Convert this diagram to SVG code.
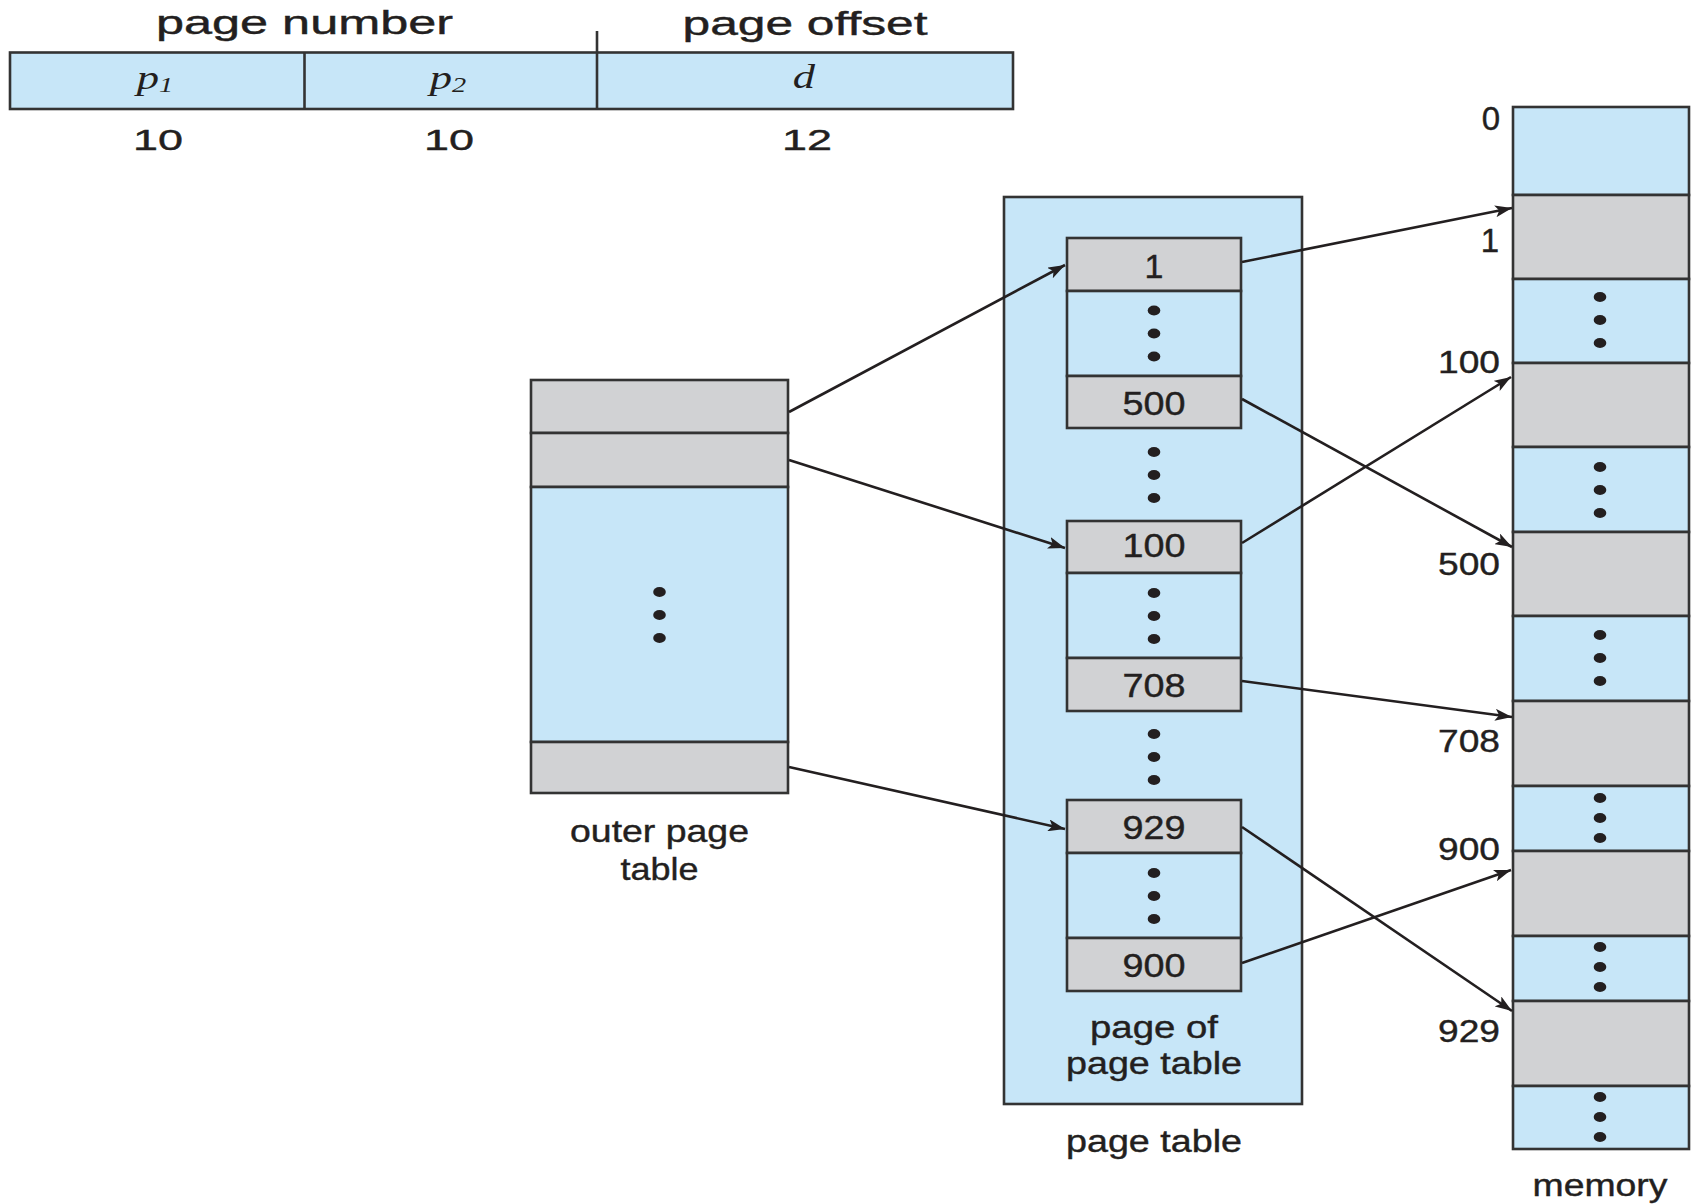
<svg xmlns="http://www.w3.org/2000/svg" width="1692" height="1204" viewBox="0 0 1692 1204">
  <defs>
    <marker id="arrow" markerWidth="18" markerHeight="12" refX="17" refY="6" orient="auto" markerUnits="userSpaceOnUse">
      <path d="M0,0 L17,6 L0,12 L4,6 z" fill="#231f20"/>
    </marker>
    <!-- vertical ellipsis, wide spacing -->
    <g id="vdots">
      <ellipse cx="0" cy="-23" rx="6.3" ry="5"/>
      <ellipse cx="0" cy="0" rx="6.3" ry="5"/>
      <ellipse cx="0" cy="23" rx="6.3" ry="5"/>
    </g>
    <!-- vertical ellipsis, tight spacing -->
    <g id="vdots-s">
      <ellipse cx="0" cy="-20" rx="6.3" ry="5"/>
      <ellipse cx="0" cy="0" rx="6.3" ry="5"/>
      <ellipse cx="0" cy="20" rx="6.3" ry="5"/>
    </g>
  </defs>
  <style>
    .blue{fill:#c7e6f8;stroke:#333;stroke-width:2.6}
    .gray{fill:#d1d2d4;stroke:#333;stroke-width:2.6}
    .edge{fill:none;stroke:#333;stroke-width:2.6}
    .t{font-family:"Liberation Sans",Arial,Helvetica,sans-serif;fill:#231f20;stroke:#231f20;stroke-width:0.4}
    .m{text-anchor:middle}
    .e{text-anchor:end}
    .var{font-family:"Liberation Serif","Times New Roman",serif;font-style:italic;fill:#231f20;text-anchor:middle}
    .dots{fill:#231f20}
    .conn{stroke:#231f20;stroke-width:2.6;fill:none;marker-end:url(#arrow)}
  </style>

  <rect x="0" y="0" width="1692" height="1204" fill="#ffffff"/>

  <!-- logical address layout -->
  <g id="address">
    <text class="t m" x="304.5" y="34" font-size="33" textLength="297" lengthAdjust="spacingAndGlyphs">page number</text>
    <text class="t m" x="805" y="35" font-size="33" textLength="245" lengthAdjust="spacingAndGlyphs">page offset</text>
    <line class="edge" x1="597" y1="31" x2="597" y2="52"/>
    <rect class="blue" x="10" y="52.5" width="1003" height="56.5"/>
    <line class="edge" x1="304.5" y1="52.5" x2="304.5" y2="109"/>
    <line class="edge" x1="597" y1="52.5" x2="597" y2="109"/>
    <text class="var" transform="translate(155,89) scale(1.35,1)" font-size="33">p<tspan font-size="21" dy="3">1</tspan></text>
    <text class="var" transform="translate(448,89) scale(1.35,1)" font-size="33">p<tspan font-size="21" dy="3">2</tspan></text>
    <text class="var" transform="translate(804,88) scale(1.35,1)" font-size="33">d</text>
    <text class="t m" x="158" y="150" font-size="30" textLength="50" lengthAdjust="spacingAndGlyphs">10</text>
    <text class="t m" x="449" y="150" font-size="30" textLength="50" lengthAdjust="spacingAndGlyphs">10</text>
    <text class="t m" x="807" y="150" font-size="30" textLength="50" lengthAdjust="spacingAndGlyphs">12</text>
  </g>

  <!-- outer page table -->
  <g id="outer-page-table">
    <rect class="gray" x="531" y="380" width="257" height="53"/>
    <rect class="gray" x="531" y="433" width="257" height="54"/>
    <rect class="blue" x="531" y="487" width="257" height="255"/>
    <rect class="gray" x="531" y="742" width="257" height="51"/>
    <use href="#vdots" x="659.5" y="615" class="dots"/>
    <text class="t m" x="659.5" y="842" font-size="32" textLength="179" lengthAdjust="spacingAndGlyphs">outer page</text>
    <text class="t m" x="659.5" y="880" font-size="32" textLength="78" lengthAdjust="spacingAndGlyphs">table</text>
  </g>

  <!-- page table with pages of page table -->
  <g id="page-table">
    <rect class="blue" x="1004" y="197" width="298" height="907"/>
    <use href="#vdots" x="1154" y="475" class="dots"/>
    <use href="#vdots" x="1154" y="757" class="dots"/>
    <text class="t m" x="1154" y="1038" font-size="31" textLength="128" lengthAdjust="spacingAndGlyphs">page of</text>
    <text class="t m" x="1154" y="1074" font-size="31" textLength="176" lengthAdjust="spacingAndGlyphs">page table</text>
    <text class="t m" x="1154" y="1152" font-size="31" textLength="176" lengthAdjust="spacingAndGlyphs">page table</text>
  </g>

  <g id="ptp-1">
    <rect class="gray" x="1067" y="238" width="174" height="53"/>
    <rect class="blue" x="1067" y="291" width="174" height="85"/>
    <rect class="gray" x="1067" y="376" width="174" height="52"/>
    <text class="t m" x="1154" y="278" font-size="34">1</text>
    <use href="#vdots" x="1154" y="333.5" class="dots"/>
    <text class="t m" x="1154" y="415" font-size="33" textLength="63" lengthAdjust="spacingAndGlyphs">500</text>
  </g>

  <g id="ptp-2">
    <rect class="gray" x="1067" y="521" width="174" height="52"/>
    <rect class="blue" x="1067" y="573" width="174" height="85"/>
    <rect class="gray" x="1067" y="658" width="174" height="53"/>
    <text class="t m" x="1154" y="557" font-size="33" textLength="63" lengthAdjust="spacingAndGlyphs">100</text>
    <use href="#vdots" x="1154" y="616" class="dots"/>
    <text class="t m" x="1154" y="697" font-size="33" textLength="63" lengthAdjust="spacingAndGlyphs">708</text>
  </g>

  <g id="ptp-3">
    <rect class="gray" x="1067" y="800" width="174" height="53"/>
    <rect class="blue" x="1067" y="853" width="174" height="85"/>
    <rect class="gray" x="1067" y="938" width="174" height="53"/>
    <text class="t m" x="1154" y="839" font-size="33" textLength="63" lengthAdjust="spacingAndGlyphs">929</text>
    <use href="#vdots" x="1154" y="896" class="dots"/>
    <text class="t m" x="1154" y="977" font-size="33" textLength="63" lengthAdjust="spacingAndGlyphs">900</text>
  </g>

  <!-- physical memory frames -->
  <g id="memory">
    <rect class="blue" x="1513" y="107" width="176" height="88"/>
    <rect class="gray" x="1513" y="195" width="176" height="84"/>
    <rect class="blue" x="1513" y="279" width="176" height="84"/>
    <rect class="gray" x="1513" y="363" width="176" height="84"/>
    <rect class="blue" x="1513" y="447" width="176" height="85"/>
    <rect class="gray" x="1513" y="532" width="176" height="84"/>
    <rect class="blue" x="1513" y="616" width="176" height="85"/>
    <rect class="gray" x="1513" y="701" width="176" height="85"/>
    <rect class="blue" x="1513" y="786" width="176" height="65"/>
    <rect class="gray" x="1513" y="851" width="176" height="85"/>
    <rect class="blue" x="1513" y="936" width="176" height="65"/>
    <rect class="gray" x="1513" y="1001" width="176" height="85"/>
    <rect class="blue" x="1513" y="1086" width="176" height="63"/>
    <use href="#vdots" x="1600" y="320" class="dots"/>
    <use href="#vdots" x="1600" y="490" class="dots"/>
    <use href="#vdots" x="1600" y="658" class="dots"/>
    <use href="#vdots-s" x="1600" y="818" class="dots"/>
    <use href="#vdots-s" x="1600" y="967" class="dots"/>
    <use href="#vdots-s" x="1600" y="1117" class="dots"/>
    <text class="t e" x="1500" y="130" font-size="33">0</text>
    <text class="t e" x="1499" y="252" font-size="33">1</text>
    <text class="t e" x="1500" y="373" font-size="31" textLength="62" lengthAdjust="spacingAndGlyphs">100</text>
    <text class="t e" x="1500" y="575" font-size="31" textLength="62" lengthAdjust="spacingAndGlyphs">500</text>
    <text class="t e" x="1500" y="752" font-size="31" textLength="62" lengthAdjust="spacingAndGlyphs">708</text>
    <text class="t e" x="1500" y="860" font-size="31" textLength="62" lengthAdjust="spacingAndGlyphs">900</text>
    <text class="t e" x="1500" y="1042" font-size="31" textLength="62" lengthAdjust="spacingAndGlyphs">929</text>
    <text class="t m" x="1600" y="1196" font-size="31" textLength="135" lengthAdjust="spacingAndGlyphs">memory</text>
  </g>

  <!-- connectors -->
  <g id="connectors">
    <line class="conn" x1="789" y1="412" x2="1065" y2="265"/>
    <line class="conn" x1="789" y1="460" x2="1065" y2="548"/>
    <line class="conn" x1="789" y1="767" x2="1065" y2="829"/>
    <line class="conn" x1="1242" y1="262" x2="1512" y2="208"/>
    <line class="conn" x1="1242" y1="399" x2="1512" y2="547"/>
    <line class="conn" x1="1242" y1="543" x2="1511" y2="377"/>
    <line class="conn" x1="1242" y1="681" x2="1512" y2="717"/>
    <line class="conn" x1="1242" y1="963" x2="1511" y2="870"/>
    <line class="conn" x1="1242" y1="827" x2="1512" y2="1011"/>
  </g>
</svg>
